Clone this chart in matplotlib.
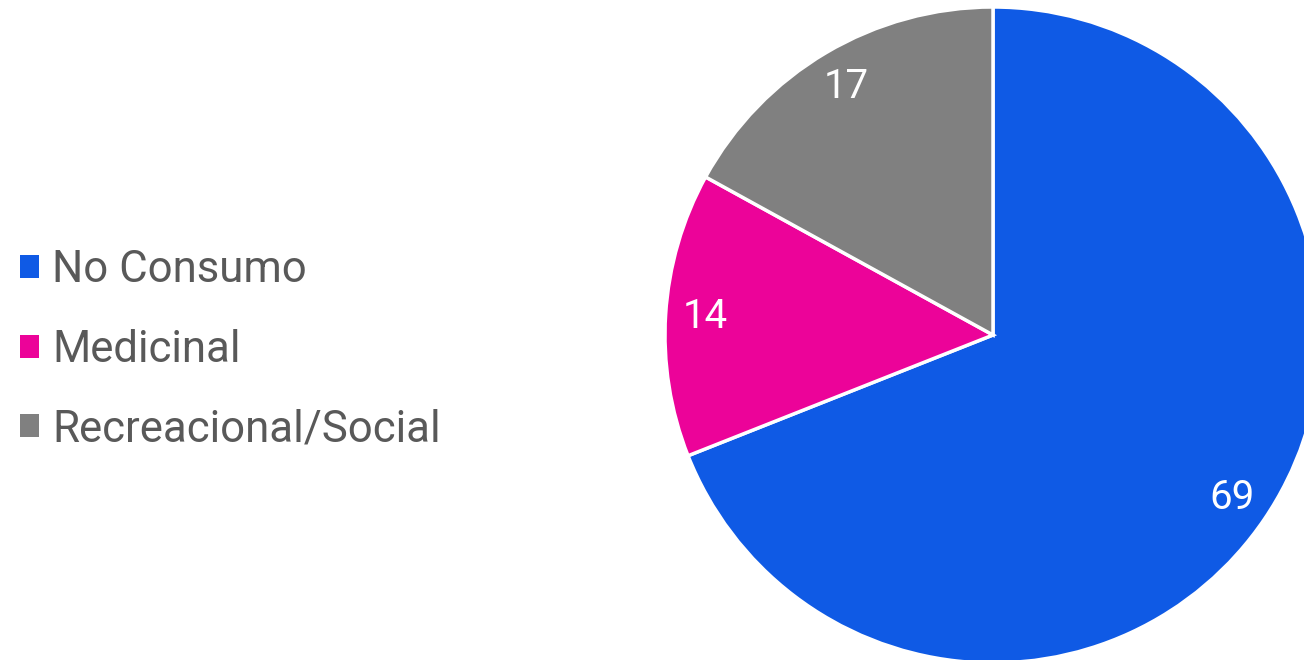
import matplotlib.pyplot as plt
from matplotlib.patches import Patch

# Datos
categorias = ["No Consumo", "Medicinal", "Recreacional/Social"]
valores = [69, 14, 17]
colores = ["#0F5AE5", "#EC0399", "#808080"]

plt.rcParams['font.family'] = ['Roboto', 'DejaVu Sans']

fig = plt.figure(figsize=(13.04, 6.6), dpi=100)

# posición del pastel: centro (993, 335) px, radio 328 px
cx, cy, r = 993, 335, 328
ax = fig.add_axes([(cx - r) / 1304, (660 - cy - r) / 660, 2 * r / 1304, 2 * r / 660])

wedges, textos = ax.pie(valores, colors=colores, startangle=90, counterclock=False,
                        labels=[str(v) for v in valores], labeldistance=0.88,
                        wedgeprops=dict(edgecolor="white", linewidth=2.5),
                        textprops=dict(color="white", fontsize=29))
for t in textos:
    t.set_horizontalalignment("center")
    t.set_verticalalignment("center")
ax.set_xlim(-1, 1)
ax.set_ylim(-1, 1)
ax.set_aspect("equal")

handles = [Patch(facecolor=c, edgecolor="none") for c in colores]
fig.legend(handles, categorias, loc="center left", bbox_to_anchor=(0.0153, 0.470),
           frameon=False, fontsize=31.5, labelcolor="#595959",
           borderpad=0, borderaxespad=0,
           handlelength=0.43, handleheight=0.43, handletextpad=0.3,
           labelspacing=0.86)

fig.savefig("out.png", dpi=100)
